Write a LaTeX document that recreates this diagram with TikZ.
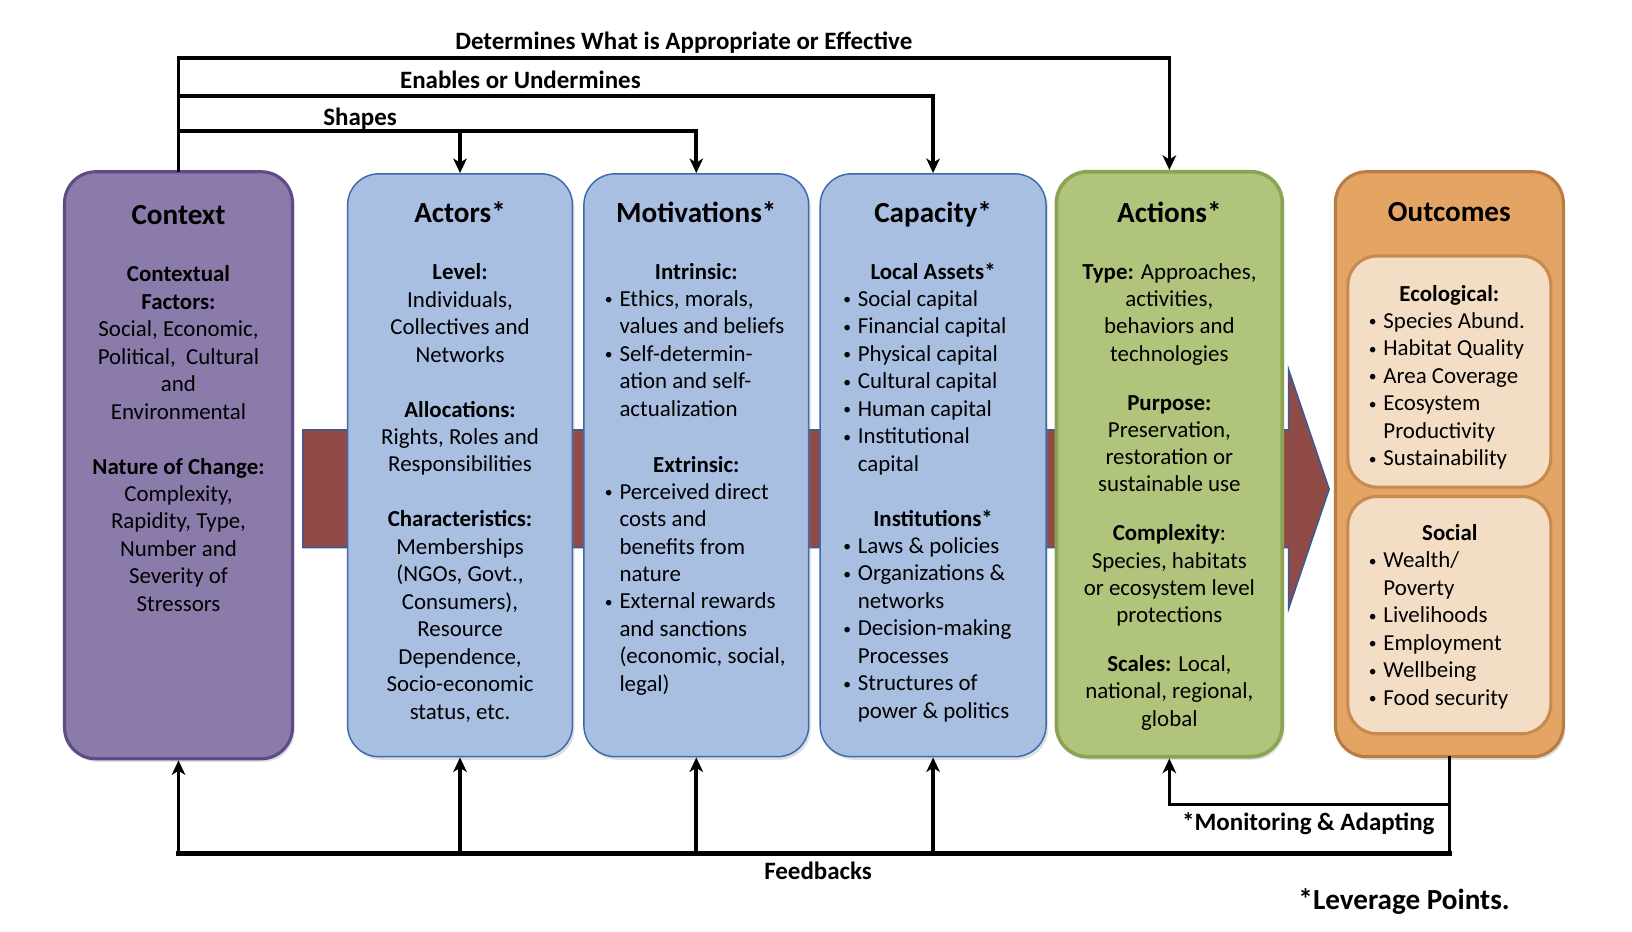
\documentclass[tikz,border=0pt]{standalone}
\usepackage{fontspec}
\setmainfont{Carlito}
\usetikzlibrary{arrows.meta,shadows}
\definecolor{ctxfill}{HTML}{8B7BAB}
\definecolor{ctxdraw}{HTML}{5F4B85}
\definecolor{bluefill}{HTML}{A8BFE1}
\definecolor{bluedraw}{HTML}{3D6AAA}
\definecolor{grnfill}{HTML}{B1C47B}
\definecolor{grndraw}{HTML}{8CA353}
\definecolor{orgfill}{HTML}{E4A564}
\definecolor{orgdraw}{HTML}{B97D44}
\definecolor{inrfill}{HTML}{F3DEC5}
\definecolor{inrdraw}{HTML}{C78B50}
\definecolor{redfill}{HTML}{914B47}
\definecolor{reddraw}{HTML}{3B5A94}
\newcommand\myb{\makebox[15pt][l]{\hspace*{1pt}\raisebox{1.5pt}{\fontsize{15}{15}\selectfont\textbullet}}}
\newcommand\myi{\hspace*{15pt}}
\begin{document}
\begin{tikzpicture}[x=1pt,y=-1pt,
  box/.style={rectangle, rounded corners=30pt, inner sep=0pt,
    drop shadow={opacity=0.25, shadow xshift=2pt, shadow yshift=-3pt}},
  ctxbox/.style={box, fill=ctxfill, draw=ctxdraw, line width=3pt},
  bluebox/.style={box, fill=bluefill, draw=bluedraw, line width=1.4pt},
  grnbox/.style={box, fill=grnfill, draw=grndraw, line width=3.5pt},
  orgbox/.style={box, fill=orgfill, draw=orgdraw, line width=3pt},
  inrbox/.style={rectangle, rounded corners=28pt, inner sep=0pt, fill=inrfill, draw=inrdraw, line width=3pt},
  ttl/.style={font=\bfseries\fontsize{28}{33}\selectfont, anchor=base, inner sep=0pt},
  hd/.style={font=\bfseries\fontsize{22}{26.4}\selectfont, anchor=base, inner sep=0pt},
  txt/.style={font=\fontsize{22}{26.4}\selectfont, align=center, inner sep=0pt, anchor=north,
    execute at begin node={\rule{0pt}{20pt}}},
  lst/.style={txt, align=left, anchor=north west},
  lbl/.style={font=\bfseries\fontsize{24}{28}\selectfont, anchor=base, inner sep=0pt},
  conn/.style={line width=3.5pt, line cap=rect},
  tip/.style={-{Stealth[length=14pt,width=13pt,inset=4pt]}}
]
\useasboundingbox (0,0) rectangle (1568,895);

% big red arrow behind the boxes
\path[fill=redfill, draw=reddraw, line width=1.5pt, line join=miter]
  (291,413) -- (1238,413) -- (1238,355) -- (1277,470) -- (1238,585) -- (1238,526) -- (291,526) -- cycle;

% boxes
\node[ctxbox, minimum width=219pt, minimum height=564pt] (ctx) at (171.5,447) {};
\node[bluebox, minimum width=216pt, minimum height=560pt] (act) at (442,447) {};
\node[bluebox, minimum width=216pt, minimum height=560pt] (mot) at (669,447) {};
\node[bluebox, minimum width=217pt, minimum height=560pt] (cap) at (896.5,447) {};
\node[grnbox, minimum width=217pt, minimum height=562pt] (acn) at (1123.5,446) {};
\node[orgbox, minimum width=219pt, minimum height=562pt] (out) at (1392.5,446) {};
\node[inrbox, minimum width=195pt, minimum height=222pt] (eco) at (1392.5,357) {};
\node[inrbox, minimum width=195pt, minimum height=228pt] (soc) at (1392.5,591) {};

% titles
\node[ttl] (ctx-t) at (171.5,216) {Context};
\node[ttl] (act-t) at (442,214) {Actors*};
\node[ttl] (mot-t) at (669,214) {Motivations*};
\node[ttl] (cap-t) at (896.5,214) {Capacity*};
\node[ttl] (acn-t) at (1123.5,214) {Actions*};
\node[ttl] (out-t) at (1392.5,213) {Outcomes};

% Context text
\node[txt] (ctx-b) at (171.5,255) {\textbf{Contextual}\\ \textbf{Factors:}\\ Social, Economic,\\ Political,\ \ Cultural\\ and\\ Environmental\\[26.4pt]
  \textbf{Nature of Change:}\\ Complexity,\\ Rapidity, Type,\\ Number and\\ Severity of\\ Stressors};

% Actors text
\node[txt] (act-b) at (442,253) {\textbf{Level:}\\ Individuals,\\ Collectives and\\ Networks\\[26.4pt]
  \textbf{Allocations:}\\ Rights, Roles and\\ Responsibilities\\[26.4pt]
  \textbf{Characteristics:}\\ Memberships\\ (NGOs, Govt.,\\ Consumers),\\ Resource\\ Dependence,\\ Socio-economic\\ status, etc.};

% Motivations text
\node[hd] (mot-h1) at (669,269) {Intrinsic:};
\node[lst] (mot-l1) at (580,279) {\myb Ethics, morals,\\ \myi values and beliefs\\ \myb Self-determin-\\ \myi ation and self-\\ \myi actualization};
\node[hd] (mot-h2) at (669,454) {Extrinsic:};
\node[lst] (mot-l2) at (580,464) {\myb Perceived direct\\ \myi costs and\\ \myi benefits from\\ \myi nature\\ \myb External rewards\\ \myi and sanctions\\ \myi (economic, social,\\ \myi legal)};

% Capacity text
\node[hd] (cap-h1) at (896.5,269) {Local Assets*};
\node[lst] (cap-l1) at (809,279) {\myb Social capital\\ \myb Financial capital\\ \myb Physical capital\\ \myb Cultural capital\\ \myb Human capital\\ \myb Institutional\\ \myi capital};
\node[hd] (cap-h2) at (896.5,506) {Institutions*};
\node[lst] (cap-l2) at (809,516) {\myb Laws \& policies\\ \myb Organizations \&\\ \myi networks\\ \myb Decision-making\\ \myi Processes\\ \myb Structures of\\ \myi power \& politics};

% Actions text
\node[txt, font=\fontsize{22}{26.2}\selectfont] (acn-b) at (1123.5,253) {\textbf{Type:} Approaches,\\ activities,\\ behaviors and\\ technologies\\[20.8pt]
  \textbf{Purpose:}\\ Preservation,\\ restoration or\\ sustainable use\\[20.8pt]
  \textbf{Complexity}:\\ Species, habitats\\ or ecosystem level\\ protections\\[20.8pt]
  \textbf{Scales:} Local,\\ national, regional,\\ global};

% Outcomes text
\node[hd] (eco-h) at (1392.5,290) {Ecological:};
\node[lst] (eco-l) at (1314,300) {\myb Species Abund.\\ \myb Habitat Quality\\ \myb Area Coverage\\ \myb Ecosystem\\ \myi Productivity\\ \myb Sustainability};
\node[hd] (soc-h) at (1393,519) {Social};
\node[lst] (soc-l) at (1314,530) {\myb Wealth/\\ \myi Poverty\\ \myb Livelihoods\\ \myb Employment\\ \myb Wellbeing\\ \myb Food security};

% top connectors
\coordinate (yD) at (0,56);
\coordinate (yE) at (0,92);
\coordinate (yS) at (0,126);
\draw[conn, tip] (ctx.north) -- (ctx.north |- yD) -| (acn.north);
\draw[conn, tip] (ctx.north |- yE) -| (cap.north);
\draw[conn, tip] (ctx.north |- yS) -| (mot.north);
\draw[conn, tip] (act.north |- yS) -- (act.north);

\node[lbl] (l-det) at (657,48) {Determines What is Appropriate or Effective};
\node[lbl] (l-ena) at (500,85) {Enables or Undermines};
\node[lbl] (l-sha) at (346,121) {Shapes};

% bottom connectors
\coordinate (yF) at (0,820);
\coordinate (yM) at (0,773);
\draw[conn, line width=5pt] (ctx.south |- yF) -- (out.south |- yF);
\draw[conn] (out.south) -- (out.south |- yF);
\draw[conn, tip] (ctx.south |- yF) -- (ctx.south);
\draw[conn, tip] (act.south |- yF) -- (act.south);
\draw[conn, tip] (mot.south |- yF) -- (mot.south);
\draw[conn, tip] (cap.south |- yF) -- (cap.south);
\draw[conn, tip] (out.south |- yM) -| (acn.south);

\node[lbl] (l-fb) at (786,845) {Feedbacks};
\node[lbl] (l-mon) at (1257,798) {*Monitoring \& Adapting};
\node[lbl, font=\bfseries\fontsize{28}{33}\selectfont] (l-lev) at (1349,874) {*Leverage Points.};
\end{tikzpicture}
\end{document}
